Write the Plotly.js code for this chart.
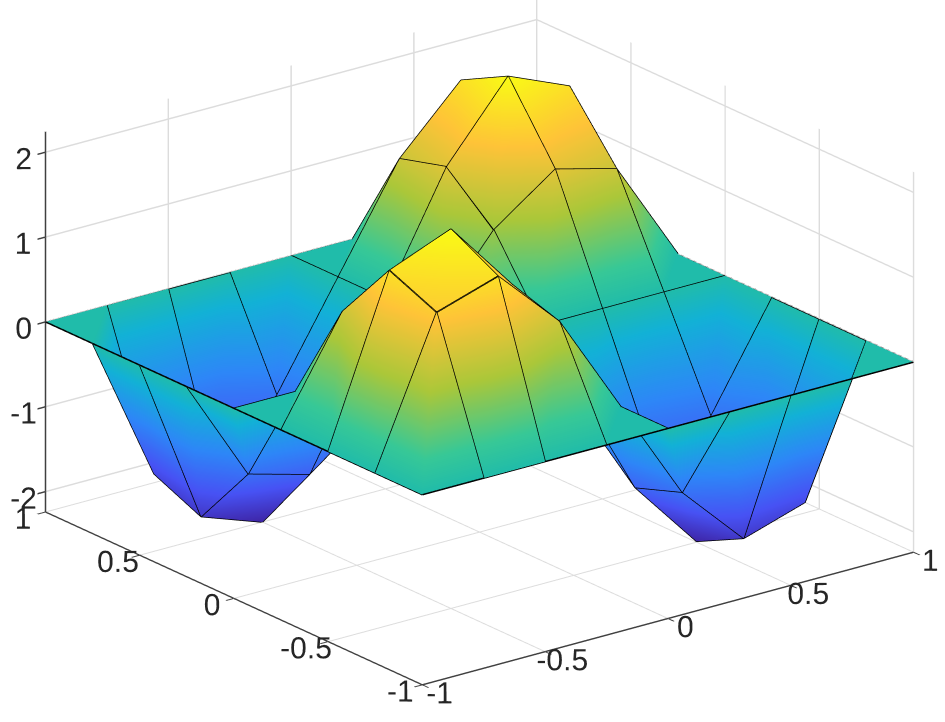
<!DOCTYPE html>
<html><head><meta charset="utf-8">
<script src="https://cdn.plot.ly/plotly-3.0.1.min.js"></script>
<style>html,body{margin:0;padding:0;background:#fff}#g{width:945px;height:722px}</style></head>
<body><div id="g"></div>
<script>
const xs=[-1,-0.75,-0.5,-0.25,0,0.25,0.5,0.75,1];
const ys=[-1,-0.75,-0.5,-0.25,0,0.25,0.5,0.75,1];
const z0=[0,0,0,0,0,0,0,0,0];
const z1=[0,1.70,1.93,1.20,0,-1.20,-1.94,-1.71,0];
const z2=[0,1.94,2.23,1.38,0,-1.40,-2.23,-1.96,0];
const z3=[0,1.20,1.38,0.87,0,-0.87,-1.38,-1.21,0];
const z4=[0,0,0,0,0,0,0,0,0];
const z5=[0,-1.22,-1.42,-0.87,0,0.87,1.39,1.20,0];
const z6=[0,-1.98,-2.24,-1.38,0,1.36,2.23,1.92,0];
const z7=[0,-1.73,-1.93,-1.20,0,1.20,1.93,1.70,0];
const z8=[0,0,0,0,0,0,0,0,0];
const zRows=[z0,z1,z2,z3,z4,z5,z6,z7,z8];
const tickX=[-1,-0.5,0,0.5,1], tickZ=[-2,-1,0,1,2];
const parula=[[0,'#3e26a8'],[0.143,'#4752f4'],[0.286,'#2d87f7'],[0.429,'#12b1d6'],[0.5,'#21bca9'],[0.571,'#37c897'],[0.714,'#abc739'],[0.857,'#fec338'],[1,'#f9fb15']];

const n=xs.length;
const vx=[],vy=[],vz=[],ti=[],tj=[],tk=[],lx=[],ly=[],lz=[];
for(let r=0;r<n;r++)for(let c=0;c<n;c++){vx.push(xs[c]);vy.push(ys[r]);vz.push(zRows[r][c]);}
for(let r=0;r<n-1;r++)for(let c=0;c<n-1;c++){const a=r*n+c,b=a+1,d=a+n,e=d+1;ti.push(a,a);tj.push(b,e);tk.push(e,d);}
for(let r=0;r<n;r++){for(let c=0;c<n;c++){lx.push(xs[c]);ly.push(ys[r]);lz.push(zRows[r][c]);}lx.push(null);ly.push(null);lz.push(null);}
for(let c=0;c<n;c++){for(let r=0;r<n;r++){lx.push(xs[c]);ly.push(ys[r]);lz.push(zRows[r][c]);}lx.push(null);ly.push(null);lz.push(null);}

const axisBase={showbackground:false,showspikes:false,gridcolor:'#dcdcdc',gridwidth:3,
  showline:true,linecolor:'#404040',linewidth:3,zeroline:false,ticks:'outside',ticklen:10,tickcolor:'#404040',tickwidth:3,tickangle:0,
  tickfont:{family:'Liberation Sans, Arial, sans-serif',size:19,color:'#262626'},title:{text:''}};
const v=[-0.0267,-0.0028,-0.0492];
const eye=[-1.71,-2.229,1.056];
Plotly.newPlot('g',[
 {type:'mesh3d',x:vx,y:vy,z:vz,i:ti,j:tj,k:tk,intensity:vz,intensitymode:'vertex',colorscale:parula,cmin:-2.24,cmax:2.24,showscale:false,
  flatshading:false,lighting:{ambient:1,diffuse:0,specular:0,roughness:1,fresnel:0},hoverinfo:'skip'},
 {type:'scatter3d',mode:'lines',x:lx,y:ly,z:lz,line:{color:'#000',width:3},connectgaps:false,hoverinfo:'skip',showlegend:false}],
 {width:945,height:722,margin:{l:0,r:0,t:0,b:0},paper_bgcolor:'#fff',showlegend:false,
  scene:{domain:{x:[0,1],y:[0,1]},aspectmode:'manual',aspectratio:{x:1.715,y:1.715,z:1.125},
    camera:{projection:{type:'orthographic'},eye:{x:eye[0]+v[0],y:eye[1]+v[1],z:eye[2]+v[2]},up:{x:0,y:0,z:1},center:{x:v[0],y:v[1],z:v[2]}},
    xaxis:Object.assign({},axisBase,{range:[-1,1],tickmode:'array',tickvals:tickX,ticktext:['-1','-0.5','0','0.5','1']}),
    yaxis:Object.assign({},axisBase,{range:[-1,1],tickmode:'array',tickvals:tickX,ticktext:['-1','-0.5','0','0.5','1']}),
    zaxis:Object.assign({},axisBase,{range:[-2.24,2.24],tickmode:'array',tickvals:tickZ,ticktext:['-2','-1','0','1','2']})}},
 {displayModeBar:false});
</script></body></html>
